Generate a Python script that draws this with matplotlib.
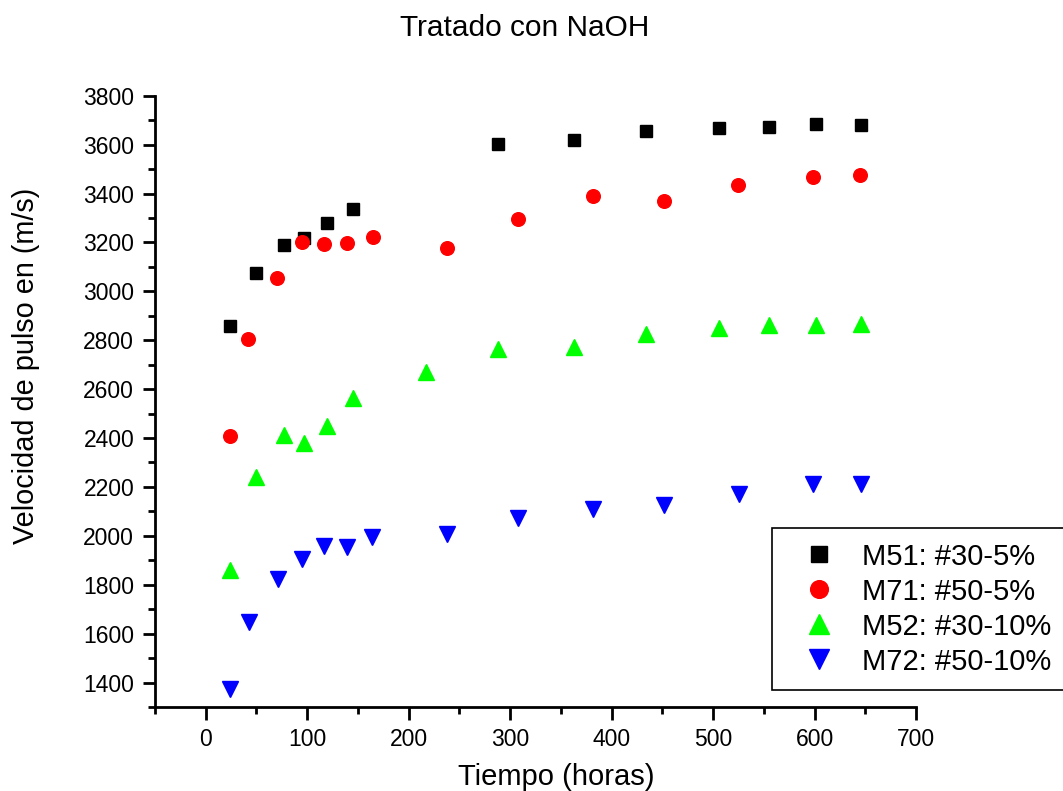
import matplotlib
matplotlib.use('Agg')
import matplotlib.pyplot as plt
from matplotlib.ticker import MultipleLocator

plt.rcParams['font.family'] = ['Liberation Sans', 'DejaVu Sans']

# tiempo (horas) y velocidad de pulso (m/s) por muestra
t_m51 = [24, 50, 77, 97, 120, 145, 288, 363, 434, 506, 555, 601, 646]
v_m51 = [2858, 3073, 3190, 3216, 3279, 3336, 3602, 3619, 3655, 3666, 3673, 3683, 3681]

t_m71 = [24, 42, 70, 95, 117, 139, 165, 238, 308, 382, 452, 525, 598, 645]
v_m71 = [2409, 2805, 3055, 3200, 3193, 3196, 3224, 3179, 3296, 3389, 3371, 3435, 3468, 3475]

t_m52 = [24, 50, 77, 97, 120, 145, 217, 288, 363, 434, 506, 555, 601, 646]
v_m52 = [1859, 2239, 2411, 2378, 2450, 2562, 2670, 2763, 2771, 2827, 2849, 2861, 2861, 2865]

t_m72 = [24, 43, 71, 95, 117, 139, 164, 238, 308, 382, 452, 526, 598, 646]
v_m72 = [1373, 1648, 1825, 1904, 1959, 1956, 1997, 2007, 2072, 2109, 2125, 2173, 2214, 2214]

etiquetas = ['M51: #30-5%', 'M71: #50-5%', 'M52: #30-10%', 'M72: #50-10%']

fig = plt.figure(figsize=(10.63, 7.91), dpi=100)
ax = fig.add_axes([155 / 1063, 1 - 707 / 791, (916 - 155) / 1063, (707 - 95.7) / 791])

ax.plot(t_m51, v_m51, 's', color='black', markersize=9, label=etiquetas[0])
ax.plot(t_m71, v_m71, 'o', color='#ff0000', markersize=9.8, label=etiquetas[1])
ax.plot(t_m52, v_m52, '^', color='#00ff00', markersize=11, label=etiquetas[2])
ax.plot(t_m72, v_m72, 'v', color='#0000ff', markersize=11, label=etiquetas[3])

ax.set_xlim(-50, 700)
ax.set_ylim(1300, 3800)
ax.xaxis.set_major_locator(MultipleLocator(100))
ax.xaxis.set_minor_locator(MultipleLocator(50))
ax.yaxis.set_major_locator(MultipleLocator(200))
ax.yaxis.set_minor_locator(MultipleLocator(100))
ax.set_xticks(range(0, 701, 100))
ax.set_yticks(range(1400, 3801, 200))

for side in ['top', 'right']:
    ax.spines[side].set_visible(False)
for side in ['left', 'bottom']:
    ax.spines[side].set_linewidth(2)

ax.tick_params(which='major', direction='out', length=9, width=2, labelsize=16.5, pad=6)
ax.tick_params(which='minor', direction='out', length=5, width=2)

# titulos y etiquetas
fig.text(525 / 1063, 1 - 36 / 791, 'Tratado con NaOH', ha='center', va='baseline', fontsize=21.5)
fig.text(556 / 1063, 1 - 785 / 791, 'Tiempo (horas)', ha='center', va='baseline', fontsize=21)
fig.text(26 / 1063, 1 - 366 / 791, 'Velocidad de pulso en (m/s)', ha='center', va='center',
         rotation=90, fontsize=20.8)

leg = ax.legend(loc='upper left', bbox_to_anchor=(772 / 1063, 1 - 528 / 791),
                bbox_transform=fig.transFigure, borderaxespad=0, fontsize=21,
                frameon=True, fancybox=False, edgecolor='black', framealpha=1,
                markerscale=1.3, handlelength=2.2, handletextpad=0.4, borderpad=0.5,
                labelspacing=0.24)
leg.get_frame().set_linewidth(1.2)

fig.savefig('out.png', dpi=100)
